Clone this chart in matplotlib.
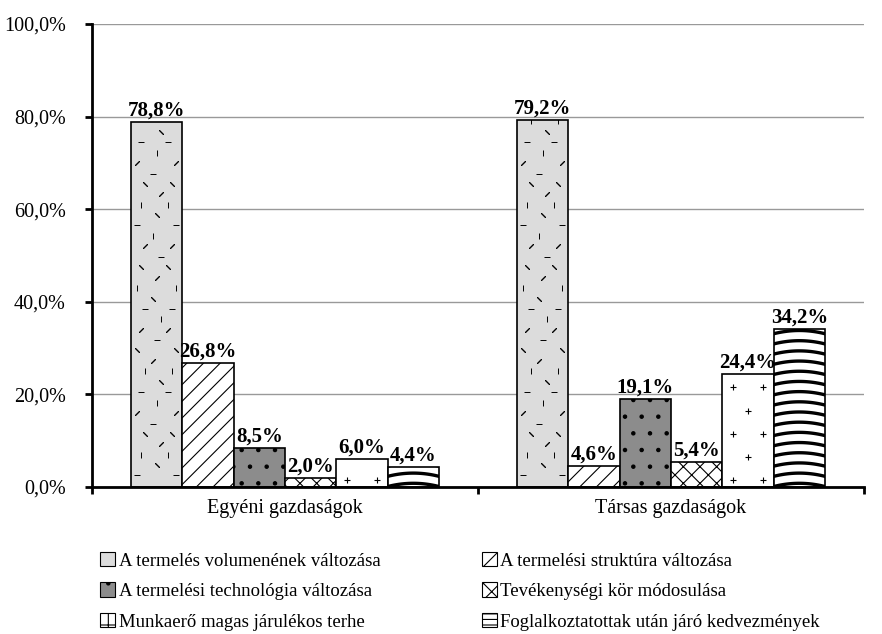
import numpy as np
import matplotlib.pyplot as plt
from matplotlib.patches import Patch
from matplotlib.ticker import FuncFormatter

categories = ["Egyéni gazdaságok", "Társas gazdaságok"]
series_names = [
    "A termelés volumenének változása",
    "A termelési struktúra változása",
    "A termelési technológia változása",
    "Tevékenységi kör módosulása",
    "Munkaerő magas járulékos terhe",
    "Foglalkoztatottak után járó kedvezmények",
]
values = [
    [78.8, 79.2],
    [26.8, 4.6],
    [8.5, 19.1],
    [2.0, 5.4],
    [6.0, 24.4],
    [4.4, 34.2],
]

colors = ["#dcdcdc", "white", "#8c8c8c", "white", "white", "white"]
hatches = ["", "//", ".", "xx", "", ""]
legend_hatches = ["", "//", ".", "xx", "+", "---"]

plt.rcParams["font.family"] = ["Liberation Serif", "DejaVu Serif"]
plt.rcParams["hatch.linewidth"] = 0.8

fig = plt.figure(figsize=(8.82, 6.34), dpi=100)
ax = fig.add_axes([92 / 882, 147 / 634, 772 / 882, 463 / 634])

x = np.arange(len(categories))
width = 0.133
for i, (name, vals) in enumerate(zip(series_names, values)):
    pos = x + (i - 2.5) * width
    bars = ax.bar(pos, vals, width, color=colors[i], edgecolor="black",
                  linewidth=1.2, hatch=hatches[i], label=name, zorder=3)
    for rect, v in zip(bars, vals):
        ax.text(rect.get_x() + rect.get_width() / 2, v + 0.3,
                f"{v:.1f}%".replace(".", ","), ha="center", va="bottom",
                fontsize=15, fontweight="bold", zorder=5)
        # texture inside the bar, clipped to it
        x0, w = rect.get_x(), rect.get_width()
        if i == 0:
            ys = np.arange(2.5, v, 4.5)
            for k, yy in enumerate(ys):
                for j, fx in enumerate([0.2, 0.5, 0.8]):
                    m = ["_", "|", (2, 2, 45), (2, 2, -45)][(k + 2 * j) % 4]
                    off = 0.08 * ((k + j) % 3 - 1)
                    ax.scatter(x0 + w * (fx + off), yy + 2.2 * (j % 2),
                               marker=m, s=16, color="black", linewidths=0.7,
                               zorder=4).set_clip_path(rect)
        if i == 4:
            ys = np.arange(1.5, v, 5.0)
            for k, yy in enumerate(ys):
                fxs = [0.5] if k % 2 else [0.2, 0.8]
                for fx in fxs:
                    ax.scatter(x0 + w * fx, yy, marker="+", s=22, color="black",
                               linewidths=0.8, zorder=4).set_clip_path(rect)
        if i == 5:
            t = np.linspace(0, 1, 30)
            for yy in np.arange(0.8, v + 2, 2.2):
                ln, = ax.plot(x0 + w * t, yy - 0.7 * (2 * t - 1) ** 2,
                              color="black", linewidth=2.4, zorder=4)
                ln.set_clip_path(rect)

ax.set_xlim(-0.5, 1.5)
ax.set_ylim(0, 100)
ax.set_yticks(np.arange(0, 101, 20))
ax.yaxis.set_major_formatter(FuncFormatter(lambda v, p: f"{v:.1f}%".replace(".", ",")))
ax.grid(axis="y", color="#999999", linewidth=1.0, zorder=0)
ax.set_xticks([-0.5, 0.5, 1.5])
ax.set_xticklabels([])
ax.set_xticks(x, minor=True)
ax.set_xticklabels(categories, minor=True)
ax.tick_params(axis="x", which="minor", length=0, labelsize=14.5, pad=9)
ax.tick_params(axis="x", which="major", direction="out", length=5, width=2)
ax.tick_params(axis="y", direction="out", length=5, width=2, labelsize=14.5, pad=14)
for s in ["top", "right"]:
    ax.spines[s].set_visible(False)
ax.spines["left"].set_linewidth(2)
ax.spines["bottom"].set_linewidth(2)
ax.spines["left"].set_zorder(6)
ax.spines["bottom"].set_zorder(6)

handles = [Patch(facecolor=colors[i], edgecolor="black", hatch=legend_hatches[i],
                 linewidth=0.8) for i in range(len(series_names))]
order = [0, 2, 4, 1, 3, 5]
fig.legend([handles[k] for k in order], [series_names[k] for k in order],
           loc="upper left", bbox_to_anchor=(100 / 882, 1 - 552 / 634), ncol=2,
           frameon=False, fontsize=13.5, handlelength=0.8, handleheight=0.8,
           handletextpad=0.2, columnspacing=5.4, labelspacing=0.68,
           borderaxespad=0, borderpad=0)

fig.savefig("out.png", dpi=100)
